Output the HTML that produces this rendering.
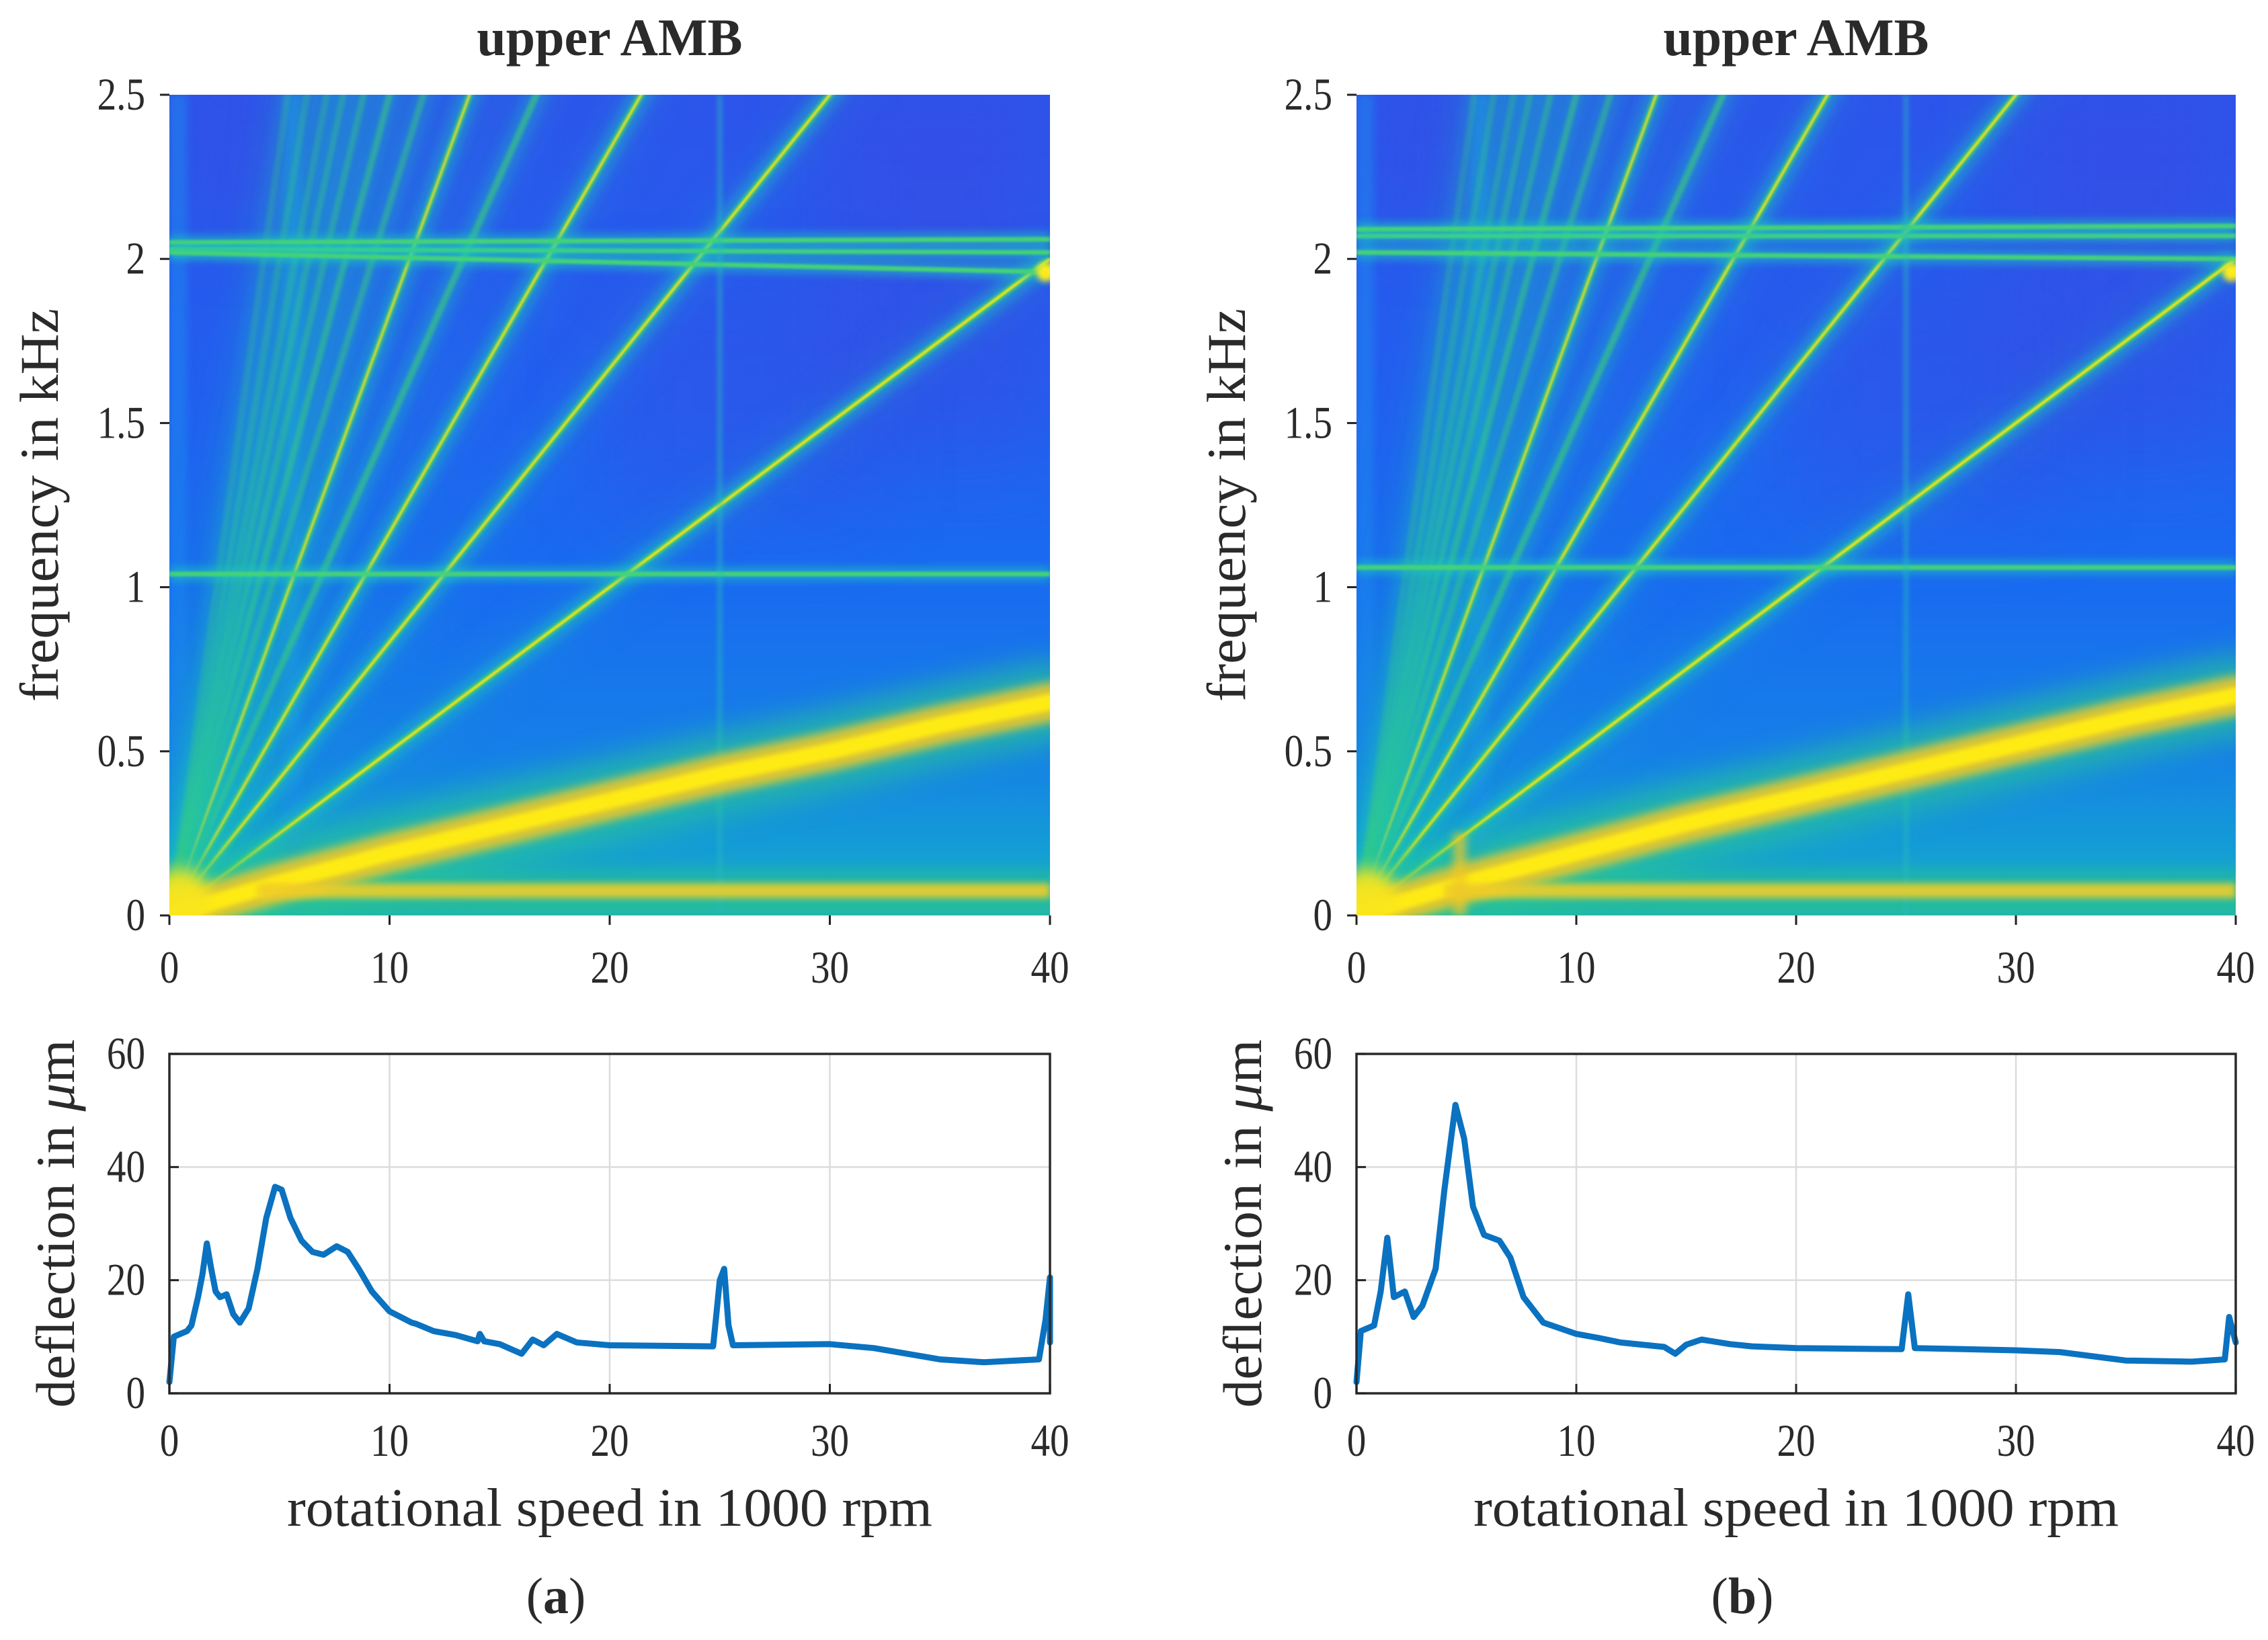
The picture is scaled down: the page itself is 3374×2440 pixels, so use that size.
<!DOCTYPE html>
<html><head><meta charset="utf-8">
<style>
html,body{margin:0;padding:0;background:#fff;}
#root{position:relative;width:3374px;height:2440px;overflow:hidden;background:#fff;}
canvas{position:absolute;}
svg{position:absolute;left:0;top:0;}
text{font-family:"Liberation Serif",serif;fill:#2a2a2a;}
</style></head>
<body>
<div id="root">
<canvas id="specA" width="1310" height="1221" style="left:252px;top:141px;width:1310px;height:1221px"></canvas>
<canvas id="specB" width="1308" height="1221" style="left:2018px;top:141px;width:1308px;height:1221px"></canvas>
<svg id="svg" width="3374" height="2440"></svg>
</div>
<script>
// ---- data ----
const xTicks = [0,10,20,30,40];
const fTicks = [0,0.5,1,1.5,2,2.5];
const fTickLabels = ["0","0.5","1","1.5","2","2.5"];
const dTicks = [0,20,40,60];
const orders = [3,5,7,9,11,13,15,17,19,21,24,28];
const orderStrength = [1,0.9,0.85,0.6,0.75,0.45,0.5,0.4,0.35,0.3,0.3,0.25];
const fundSpeed = [0,5,10,15,20,25,30,35,40];
const fundFreqA = [0,0.1,0.19,0.27,0.35,0.43,0.5,0.58,0.65];
const fundFreqB = [0,0.1,0.19,0.28,0.36,0.44,0.52,0.6,0.67];
const hLinesA = [[2.03,2.02],[2.05,2.06],[2.02,1.96],[1.04,1.04]];
const hLinesB = [[2.07,2.07],[2.09,2.1],[2.02,2.0],[1.06,1.06]];
const speedA = [0,0.2,0.8,1.0,1.3,1.5,1.7,1.9,2.1,2.3,2.6,2.9,3.2,3.6,4.0,4.4,4.8,5.1,5.5,6.0,6.5,7.0,7.6,8.1,8.6,9.2,10,11,11.2,12,13,14,14.1,14.3,15,16,16.5,17,17.6,18.5,20,24.7,25,25.2,25.4,25.6,30,32,35,37,39.5,39.8,40,40];
const deflA = [2,10,11,12,17,21,26.5,22,18,17,17.5,14,12.5,15,22,31,36.5,36,31,27,25,24.5,26,25,22,18,14.5,12.5,12.3,11,10.3,9.2,10.5,9.2,8.7,7,9.5,8.5,10.5,9,8.5,8.3,20,22,12,8.5,8.7,8,6,5.5,6,13,20.5,9];
const speedB = [0,0.2,0.8,1.1,1.4,1.7,2.2,2.6,3.0,3.6,4.0,4.5,4.9,5.3,5.8,6.5,7.0,7.6,8.5,10,11,12,14,14.5,15,15.7,17,18,20,24.8,25.1,25.4,30,32,35,38,39.5,39.7,40];
const deflB = [2,11,12,18,27.5,17,18,13.5,15.5,22,36,51,45,33,28,27,24,17,12.5,10.5,9.8,9,8.2,7,8.6,9.5,8.7,8.3,8,7.8,17.5,8,7.6,7.3,5.8,5.6,6,13.5,9];

const NS = "http://www.w3.org/2000/svg";
const svg = document.getElementById('svg');
function mk(tag, attrs, parent){
  const e = document.createElementNS(NS, tag);
  for (const k in attrs) e.setAttribute(k, attrs[k]);
  (parent||svg).appendChild(e); return e;
}
function txt(s, x, y, size, anchor, extra){
  const t = mk('text', Object.assign({x:x, y:y, 'font-size':size, 'text-anchor':anchor||'middle'}, extra||{}));
  t.textContent = s; return t;
}
function tick(s, x, y, anchor){
  return txt(s, 0, 0, 68, anchor, {transform:'translate('+x+','+y+') scale(0.84,1)', fill:'#333'});
}

function drawSpec(canvasId, fundFreq, hLines, isB){
  const c = document.getElementById(canvasId);
  const ctx = c.getContext('2d');
  const W = c.width, H = c.height;
  const xs = v => v/40*W;
  const ys = f => H - f/2.5*H;
  let g = ctx.createLinearGradient(0,0,0,H);
  g.addColorStop(0,'rgb(45,85,235)');
  g.addColorStop(0.35,'rgb(35,95,240)');
  g.addColorStop(0.6,'rgb(25,108,240)');
  g.addColorStop(0.8,'rgb(22,128,232)');
  g.addColorStop(0.93,'rgb(20,160,212)');
  g.addColorStop(1,'rgb(30,180,185)');
  ctx.fillStyle = g; ctx.fillRect(0,0,W,H);
  ctx.save(); ctx.filter='blur(60px)';
  ctx.fillStyle='rgba(75,60,215,0.25)';
  ctx.fillRect(xs(1.5),0,xs(4),ys(2.1));
  ctx.fillRect(xs(30),0,xs(10),ys(1.4));
  ctx.fillStyle='rgba(75,60,215,0.18)';
  ctx.fillRect(xs(20),ys(1.9),xs(12),ys(1.2)-ys(1.9));
  ctx.restore();
  ctx.save(); ctx.filter='blur(6px)';
  ctx.fillStyle='rgba(30,140,240,0.5)';
  ctx.fillRect(0,0,xs(0.8),H);
  ctx.fillRect(xs(5.2),0,xs(0.8),H);
  ctx.restore();
  ctx.save(); ctx.filter='blur(30px)';
  for (let i=0;i<orders.length;i++){
    const k=orders[i];
    ctx.strokeStyle='rgba(30,170,210,0.25)'; ctx.lineWidth=40;
    ctx.beginPath(); ctx.moveTo(0,H); ctx.lineTo(xs(40), ys(k*40/60)); ctx.stroke();
  }
  ctx.restore();
  ctx.save(); ctx.filter='blur(14px)';
  ctx.fillStyle='rgba(40,190,150,0.8)';
  ctx.fillRect(xs(4), ys(0.13), W, ys(0)-ys(0.13));
  ctx.restore();
  for (let i=0;i<orders.length;i++){
    const k=orders[i], s=orderStrength[i];
    const line=(col,w,blur)=>{ctx.save();ctx.filter='blur('+blur+'px)';ctx.strokeStyle=col;ctx.lineWidth=w;ctx.beginPath();ctx.moveTo(0,H);ctx.lineTo(xs(40),ys(k*40/60));ctx.stroke();ctx.restore();};
    line('rgba(30,200,190,'+(0.5*s)+')',30,9);
    line('rgba(60,205,120,'+s+')',10,2);
    if (s>0.7) line('rgba(245,225,30,'+s+')',4,0.8);
  }
  for (const h of hLines){
    const draw=(col,w,blur)=>{ctx.save();ctx.filter='blur('+blur+'px)';ctx.strokeStyle=col;ctx.lineWidth=w;ctx.beginPath();ctx.moveTo(0,ys(h[0]));ctx.lineTo(W,ys(h[1]));ctx.stroke();ctx.restore();};
    draw('rgba(30,200,190,0.5)',22,6);
    draw('rgba(70,210,120,1)',7,1.5);
  }
  ctx.save(); ctx.filter='blur(3px)'; ctx.strokeStyle='rgba(40,190,190,0.5)'; ctx.lineWidth=7;
  ctx.beginPath(); ctx.moveTo(xs(25),0); ctx.lineTo(xs(25),H); ctx.stroke(); ctx.restore();
  const fund=(col,w,blur)=>{ctx.save();ctx.filter='blur('+blur+'px)';ctx.strokeStyle=col;ctx.lineWidth=w;ctx.lineCap='round';ctx.beginPath();
    for(let i=0;i<fundSpeed.length;i++){const X=xs(fundSpeed[i]),Y=ys(fundFreq[i]); if(i)ctx.lineTo(X,Y); else ctx.moveTo(X,Y);} ctx.stroke();ctx.restore();};
  fund('rgba(40,200,150,0.7)',120,22);
  fund('rgba(240,200,40,0.9)',58,7);
  fund('rgba(255,235,20,1)',24,3);
  ctx.save(); ctx.filter='blur(5px)'; ctx.strokeStyle='rgba(240,205,40,0.9)'; ctx.lineWidth=22;
  ctx.beginPath(); ctx.moveTo(xs(4),ys(0.075)); ctx.lineTo(W,ys(0.075)); ctx.stroke(); ctx.restore();
  ctx.save(); ctx.filter='blur(12px)'; ctx.fillStyle='rgba(250,230,30,0.95)';
  ctx.beginPath(); ctx.arc(xs(0.5),ys(0.05),45,0,7); ctx.fill(); ctx.restore();
  if (isB){ ctx.save(); ctx.filter='blur(6px)'; ctx.fillStyle='rgba(240,200,40,0.7)'; ctx.fillRect(xs(4.4),ys(0.25),xs(0.6),ys(0)-ys(0.25)); ctx.restore(); }
  ctx.save(); ctx.filter='blur(4px)'; ctx.fillStyle='rgba(255,235,30,1)';
  ctx.beginPath(); ctx.arc(W-6, ys(3*40/60*0.98), 14,0,7); ctx.fill(); ctx.restore();
}
drawSpec('specA', fundFreqA, hLinesA, false);
drawSpec('specB', fundFreqB, hLinesB, true);

function specAxes(x0, label){
  const W = (label==='a')?1310:1308, top=141, H=1221;
  const xs = v => x0 + v/40*W;
  const ys = f => top + H - f/2.5*H;
  const t = txt('upper AMB', x0+W/2, 82, 78, 'middle', {'font-weight':'bold','fill':'#111'});
   
  for (let i=0;i<fTicks.length;i++){
    const y=ys(fTicks[i]);
    mk('line',{x1:x0-14,y1:y,x2:x0,y2:y,stroke:'#222','stroke-width':3});
    const l=tick(fTickLabels[i], x0-36, y+22, 'end');
     
  }
  for (const v of xTicks){
    const x=xs(v);
    mk('line',{x1:x,y1:top+H,x2:x,y2:top+H+14,stroke:'#222','stroke-width':3});
    const l=tick(String(v), x, 1462, 'middle');
     
  }
  const yl=txt('frequency in kHz', 0, 0, 82, 'middle', {transform:'translate('+(x0-166)+','+(top+H/2)+') rotate(-90)', textLength:585, lengthAdjust:'spacingAndGlyphs'});
   
}
function linePlot(x0, label, sp, de){
  const W=(label==='a')?1310:1308, top=1568, H=505;
  const xs = v => x0 + v/40*W;
  const ys = d => top + H - d/60*H;
  const g = mk('g',{});
   
  for (const v of xTicks){ if(v>0&&v<40) mk('line',{x1:xs(v),y1:top,x2:xs(v),y2:top+H,stroke:'#dcdcdc','stroke-width':2.5},g); }
  for (const d of dTicks){ if(d>0&&d<60) mk('line',{x1:x0,y1:ys(d),x2:x0+W,y2:ys(d),stroke:'#dcdcdc','stroke-width':2.5},g); }
  let dstr='';
  for (let i=0;i<sp.length;i++) dstr += (i?'L':'M') + xs(sp[i]).toFixed(1) + ',' + ys(de[i]).toFixed(1);
  const p = mk('path',{d:dstr,fill:'none',stroke:'#0a72c0','stroke-width':9,'stroke-linejoin':'round','stroke-linecap':'round'},g);
   
  mk('rect',{x:x0,y:top,width:W,height:H,fill:'none',stroke:'#2a2a2a','stroke-width':3.5},g);
  for (const d of dTicks){
    mk('line',{x1:x0,y1:ys(d),x2:x0+14,y2:ys(d),stroke:'#222','stroke-width':3},g);
    const l=tick(String(d), x0-36, ys(d)+22, 'end');
     
  }
  for (const v of xTicks){
    mk('line',{x1:xs(v),y1:top+H,x2:xs(v),y2:top+H-14,stroke:'#222','stroke-width':3},g);
    const l=tick(String(v), xs(v), 2166, 'middle');
     
  }
  const yl=txt('', 0, 0, 82, 'middle', {transform:'translate('+(x0-142)+','+(top+H/2)+') rotate(-90)', textLength:548, lengthAdjust:'spacingAndGlyphs'});
  yl.innerHTML='deflection in <tspan font-style="italic">μ</tspan>m';
   
  const xl=txt('rotational speed in 1000 rpm', x0+W/2, 2270, 80, 'middle', {textLength:960,lengthAdjust:'spacingAndGlyphs'});
   
  const pl=txt('', x0+W/2-80, 2400, 76, 'middle');
  pl.innerHTML='(<tspan font-weight="bold">'+label+'</tspan>)';
   
}
specAxes(252,'a'); specAxes(2018,'b');
linePlot(252,'a',speedA,deflA); linePlot(2018,'b',speedB,deflB);
</script>
</body></html>
